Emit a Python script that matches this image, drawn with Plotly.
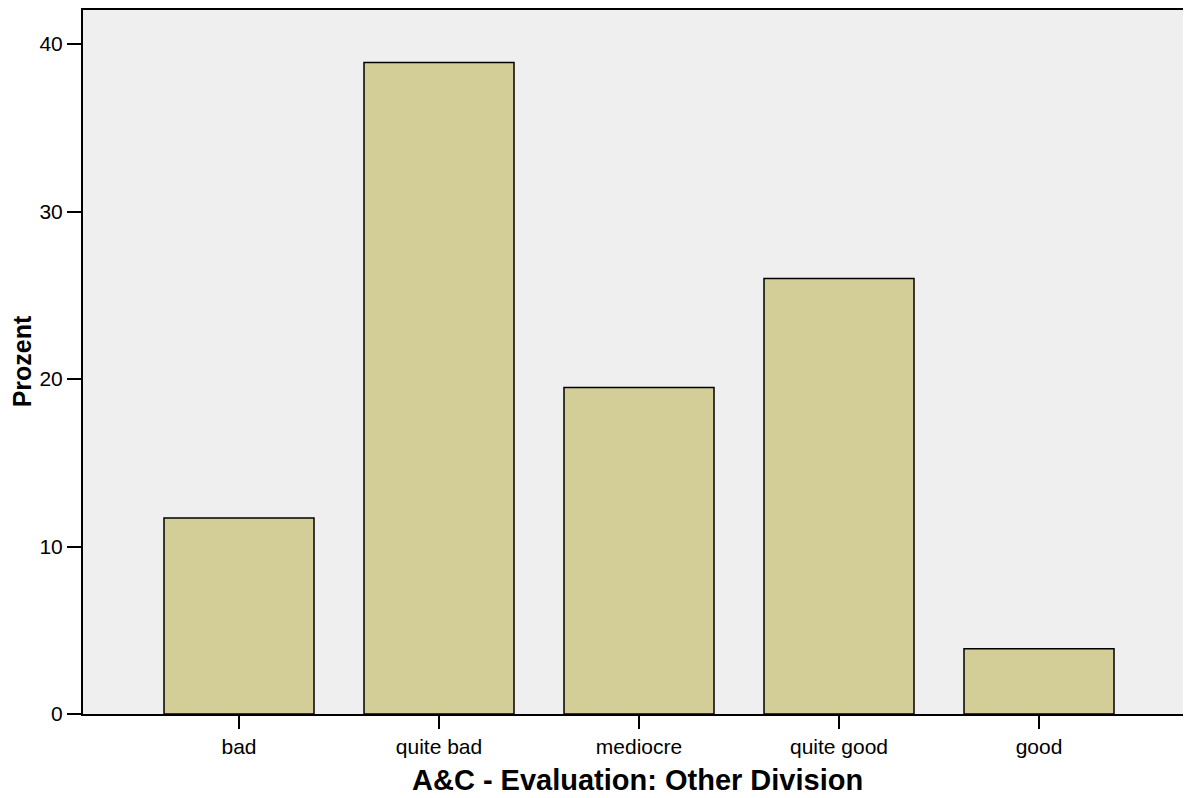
import plotly.graph_objects as go

categories = ["bad", "quite bad", "mediocre", "quite good", "good"]
percent = [11.7, 38.9, 19.5, 26.0, 3.9]
y_ticks = [0, 10, 20, 30, 40]
x_title = "A&C - Evaluation: Other Division"
y_title = "Prozent"

fig = go.Figure(go.Bar(
    x=categories, y=percent, width=0.75,
    marker=dict(color="#D3CE97", line=dict(color="black", width=1.5)),
))

font_family = "Liberation Sans, Arial, sans-serif"
fig.update_layout(
    width=1183, height=790,
    margin=dict(l=75, r=0, t=1, b=84),
    paper_bgcolor="white", plot_bgcolor="#EFEFEF",
    showlegend=False,
    font=dict(family=font_family, color="black"),
)
fig.update_xaxes(
    range=[-0.78, 4.76], showgrid=False, zeroline=False,
    showline=True, linecolor="black", linewidth=2, mirror=True,
    ticks="outside", ticklen=13, tickwidth=2, tickcolor="black",
    tickfont=dict(size=21, family=font_family),
)
fig.update_yaxes(
    range=[0, 42.09], showgrid=False, zeroline=False, automargin=False,
    showline=True, linecolor="black", linewidth=2,
    tickvals=y_ticks, ticks="outside", ticklen=14, tickwidth=2, tickcolor="black",
    tickfont=dict(size=21, family=font_family),
    title=dict(text="<b>" + y_title + "</b>", font=dict(size=25, family=font_family), standoff=14),
)
fig.add_shape(
    type="line", xref="paper", yref="paper", x0=0, x1=1, y0=1, y1=1,
    line=dict(color="black", width=2),
)
fig.add_annotation(
    text="<b>" + x_title + "</b>", xref="paper", yref="paper", x=0.5, y=0,
    xanchor="center", yanchor="middle", yshift=-66, showarrow=False,
    font=dict(size=29, family=font_family, color="black"),
)
fig.write_html("out.html")
